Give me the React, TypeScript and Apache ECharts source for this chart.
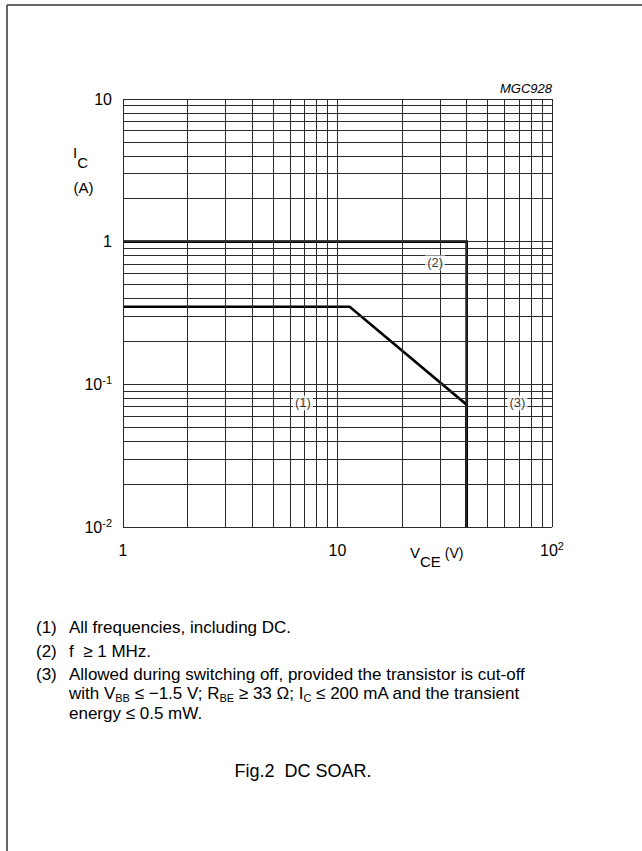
import React, { useEffect, useRef } from 'react';
import * as echarts from 'echarts';

// ---- data ----
const xGridValues = [1, 2, 3, 4, 5, 6, 7, 8, 9, 10, 20, 30, 40, 50, 60, 70, 80, 90, 100];
const yGridValues = [
  0.01, 0.02, 0.03, 0.04, 0.05, 0.06, 0.07, 0.08, 0.09,
  0.1, 0.2, 0.3, 0.4, 0.5, 0.6, 0.7, 0.8, 0.9,
  1, 2, 3, 4, 5, 6, 7, 8, 9, 10,
];
const curve1Vce = [1, 11.4, 40, 40];
const curve1Ic = [0.35, 0.35, 0.072, 0.01];
const curve2Vce = [1, 40, 40];
const curve2Ic = [1, 1, 0.01];
const annotationLabels = ['(1)', '(2)', '(3)'];
const annotationVce = [6.9, 28.5, 69];
const annotationIc = [0.074, 0.71, 0.074];

const noteNumbers = ['(1)', '(2)', '(3)'];
const noteLine1 = 'All frequencies, including DC.';
const noteLine2 = 'f  \u2265 1 MHz.';
const noteLine3a = 'Allowed during switching off, provided the transistor is cut-off';
const noteLine3b =
  '{n|with V}{s|BB}{n| \u2264 \u22121.5 V; R}{s|BE}{n| \u2265 33 \u03A9; I}{s|C}{n| \u2264 200 mA and the transient}';
const noteLine3c = 'energy \u2264 0.5 mW.';
const caption = 'Fig.2  DC SOAR.';
const figCode = 'MGC928';

const FONT = '"Liberation Sans", Arial, Helvetica, sans-serif';
const NOTE_FS = 17;
const NOTE_Y = [627, 651, 674];
const NOTE_WRAP = 19.5;

function expLabel(v: number): string {
  const e = Math.round(Math.log10(v));
  if (e === 0) return '{b|1}';
  if (e === 1) return '{b|10}';
  return '{b|10}{sup|' + String(e) + '}';
}

const tickRich = {
  b: { fontSize: 16, fontFamily: FONT, color: '#000', padding: [2, 0, 2, 0] },
  sup: { fontSize: 11, fontFamily: FONT, color: '#000', verticalAlign: 'top' },
};

function buildOption(): any {
  const gridMarks = [
    ...xGridValues.map((v) => ({ xAxis: v })),
    ...yGridValues.map((v) => ({ yAxis: v })),
  ];
  const noteStyle = { fontSize: NOTE_FS, fontFamily: FONT, fill: '#000' };
  return {
    animation: false,
    backgroundColor: '#fff',
    grid: {
      left: 123,
      top: 99,
      width: 429,
      height: 428,
      containLabel: false,
      outerBoundsMode: 'none',
    },
    xAxis: {
      type: 'log',
      logBase: 10,
      min: 1,
      max: 100,
      axisLine: { show: false },
      axisTick: { show: false },
      splitLine: { show: false },
      axisLabel: {
        margin: 13,
        formatter: (v: number) => expLabel(v),
        rich: tickRich,
      },
    },
    yAxis: {
      type: 'log',
      logBase: 10,
      min: 0.01,
      max: 10,
      axisLine: { show: false },
      axisTick: { show: false },
      splitLine: { show: false },
      axisLabel: {
        margin: 11,
        formatter: (v: number) => expLabel(v),
        rich: tickRich,
      },
    },
    series: [
      {
        name: 'grid',
        type: 'line',
        data: [],
        silent: true,
        z: 1,
        markLine: {
          silent: true,
          animation: false,
          symbol: ['none', 'none'],
          label: { show: false },
          emphasis: { disabled: true },
          lineStyle: { color: '#2a2a2a', width: 1, type: 'solid' },
          data: gridMarks,
        },
      },
      {
        name: '(2)',
        type: 'line',
        z: 3,
        symbol: 'none',
        silent: true,
        lineStyle: { color: '#000', width: 2.6, join: 'miter', cap: 'butt' },
        data: curve2Vce.map((v, i) => [v, curve2Ic[i]]),
      },
      {
        name: '(1)',
        type: 'line',
        z: 3,
        symbol: 'none',
        silent: true,
        lineStyle: { color: '#000', width: 2.6, join: 'miter', cap: 'butt' },
        data: curve1Vce.map((v, i) => [v, curve1Ic[i]]),
      },
      {
        name: 'labels',
        type: 'scatter',
        z: 10,
        silent: true,
        symbolSize: 1,
        itemStyle: { color: 'rgba(0,0,0,0)' },
        label: {
          show: true,
          position: 'inside',
          formatter: (p: any) => p.data[2],
          backgroundColor: '#fff',
          padding: [1, 2, 1, 2],
          color: '#000',
          fontSize: 13,
          fontFamily: FONT,
        },
        data: annotationVce.map((v, i) => [v, annotationIc[i], annotationLabels[i]]),
      },
    ],
    graphic: [
      // page frame
      {
        type: 'line',
        silent: true,
        shape: { x1: 7, y1: 5, x2: 642, y2: 5 },
        style: { stroke: '#333', lineWidth: 1.5 },
      },
      {
        type: 'line',
        silent: true,
        shape: { x1: 7, y1: 5, x2: 7, y2: 851 },
        style: { stroke: '#333', lineWidth: 1.5 },
      },
      // figure code
      {
        type: 'text',
        x: 552,
        y: 88,
        style: {
          text: figCode,
          fontSize: 13,
          fontStyle: 'italic',
          fontFamily: FONT,
          fill: '#000',
          align: 'right',
          textAlign: 'right',
          verticalAlign: 'middle',
          textVerticalAlign: 'middle',
        },
      },
      // y axis title
      {
        type: 'text',
        x: 73,
        y: 145,
        style: {
          text: '{i|I}{s|C}',
          verticalAlign: 'top',
          textVerticalAlign: 'top',
          align: 'left',
          textAlign: 'left',
          rich: {
            i: { fontSize: 15, fontFamily: FONT, fill: '#000', color: '#000', verticalAlign: 'top' },
            s: { fontSize: 15, fontFamily: FONT, fill: '#000', color: '#000', verticalAlign: 'top', padding: [10, 0, 0, 0] },
          },
        },
      },
      {
        type: 'text',
        x: 83.5,
        y: 187,
        style: {
          text: '(A)',
          fontSize: 15,
          fontFamily: FONT,
          fill: '#000',
          align: 'center',
          textAlign: 'center',
          verticalAlign: 'middle',
          textVerticalAlign: 'middle',
        },
      },
      // x axis title
      {
        type: 'text',
        x: 410,
        y: 544.5,
        style: {
          text: '{v|V}{s|CE}{u| (V)}',
          verticalAlign: 'top',
          textVerticalAlign: 'top',
          align: 'left',
          textAlign: 'left',
          rich: {
            v: { fontSize: 15, fontFamily: FONT, fill: '#000', color: '#000', verticalAlign: 'top' },
            s: { fontSize: 15, fontFamily: FONT, fill: '#000', color: '#000', verticalAlign: 'top', padding: [9, 0, 0, 0] },
            u: { fontSize: 14, fontFamily: FONT, fill: '#000', color: '#000', verticalAlign: 'top', padding: [1, 0, 0, 0] },
          },
        },
      },
      // notes
      ...noteNumbers.map((t, i) => ({
        type: 'text',
        x: 36,
        y: NOTE_Y[i],
        style: { ...noteStyle, text: t, verticalAlign: 'middle', textVerticalAlign: 'middle' },
      })),
      {
        type: 'text',
        x: 69,
        y: NOTE_Y[0],
        style: { ...noteStyle, text: noteLine1, verticalAlign: 'middle', textVerticalAlign: 'middle' },
      },
      {
        type: 'text',
        x: 69,
        y: NOTE_Y[1],
        style: { ...noteStyle, text: noteLine2, verticalAlign: 'middle', textVerticalAlign: 'middle' },
      },
      {
        type: 'text',
        x: 69,
        y: NOTE_Y[2],
        style: { ...noteStyle, text: noteLine3a, verticalAlign: 'middle', textVerticalAlign: 'middle' },
      },
      {
        type: 'text',
        x: 69,
        y: NOTE_Y[2] + NOTE_WRAP - NOTE_FS / 2,
        style: {
          text: noteLine3b,
          verticalAlign: 'top',
          textVerticalAlign: 'top',
          rich: {
            n: { fontSize: NOTE_FS, fontFamily: FONT, fill: '#000', color: '#000', verticalAlign: 'top' },
            s: { fontSize: 11, fontFamily: FONT, fill: '#000', color: '#000', verticalAlign: 'top', padding: [7, 0, 0, 0] },
          },
        },
      },
      {
        type: 'text',
        x: 69,
        y: NOTE_Y[2] + NOTE_WRAP * 2,
        style: { ...noteStyle, text: noteLine3c, verticalAlign: 'middle', textVerticalAlign: 'middle' },
      },
      // caption
      {
        type: 'text',
        x: 303,
        y: 771,
        style: {
          text: caption,
          fontSize: 18,
          fontFamily: FONT,
          fill: '#000',
          align: 'center',
          textAlign: 'center',
          verticalAlign: 'middle',
          textVerticalAlign: 'middle',
        },
      },
    ],
  };
}

export default function App() {
  const ref = useRef<HTMLDivElement>(null);
  useEffect(() => {
    if (!ref.current) return;
    const chart = echarts.init(ref.current, null, { renderer: 'svg' });
    chart.setOption(buildOption());
    return () => {
      chart.dispose();
    };
  }, []);
  return (
    <div
      ref={ref}
      style={{ position: 'absolute', left: 0, top: 0, width: 642, height: 851, background: '#fff' }}
    />
  );
}
